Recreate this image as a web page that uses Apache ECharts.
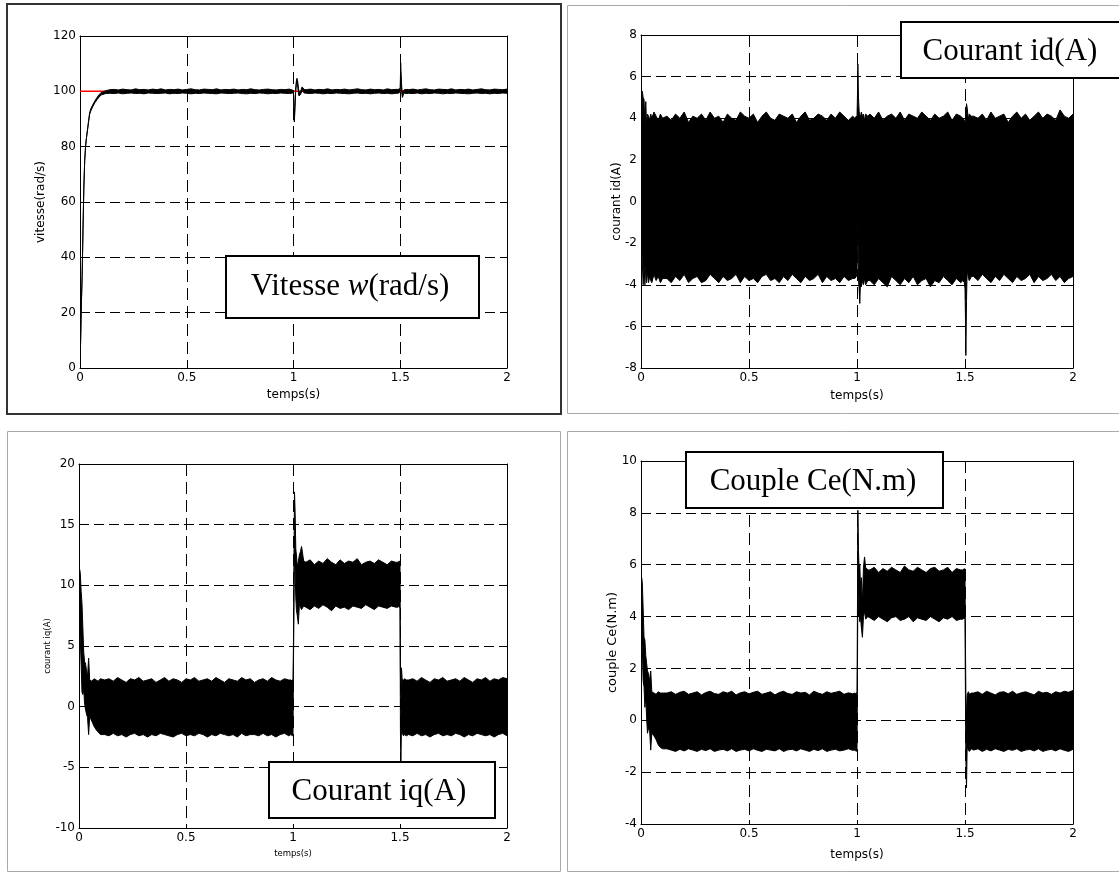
<!DOCTYPE html>
<html>
<head>
<meta charset="utf-8">
<script src="https://cdn.jsdelivr.net/npm/echarts@6/dist/echarts.min.js"></script>
<style>
html,body{margin:0;padding:0;background:#fff;}
#c{width:1119px;height:873px;}
</style>
</head>
<body>
<div id="c"></div>
<script>
// ---- sample times (s), shared by the four traces ----
const timeS = [
  0,0.003,0.006,0.01,0.014,0.018,0.022,0.026,0.03,0.035,0.04,0.045,0.05,0.06,0.07,0.08,0.09,0.1,
  0.12,0.14,0.16,0.18,0.2,0.22,0.24,0.26,0.28,0.3,0.32,0.34,0.36,0.38,0.4,0.42,0.44,0.46,0.48,0.5,
  0.52,0.54,0.56,0.58,0.6,0.62,0.64,0.66,0.68,0.7,0.72,0.74,0.76,0.78,0.8,0.82,0.84,0.86,0.88,0.9,0.92,0.94,0.96,0.98,
  0.99,0.997,1.0,1.002,1.004,1.007,1.01,1.013,1.016,1.02,1.025,1.03,1.035,1.04,1.05,
  1.06,1.08,1.1,1.12,1.14,1.16,1.18,1.2,1.22,1.24,1.26,1.28,1.3,1.32,1.34,1.36,1.38,1.4,1.42,1.44,1.46,1.48,
  1.49,1.497,1.5,1.502,1.504,1.507,1.51,1.513,1.516,1.52,1.53,
  1.54,1.56,1.58,1.6,1.62,1.64,1.66,1.68,1.7,1.72,1.74,1.76,1.78,1.8,1.82,1.84,1.86,1.88,1.9,1.92,1.94,1.96,1.98,2.0
];

// ---- tick labels ----
const xTicks = [0, 0.5, 1, 1.5, 2];
const speedTicks = [0, 20, 40, 60, 80, 100, 120];
const idTicks = [-8, -6, -4, -2, 0, 2, 4, 6, 8];
const iqTicks = [-10, -5, 0, 5, 10, 15, 20];
const ceTicks = [-4, -2, 0, 2, 4, 6, 8, 10];

// ---- speed reference (red) ----
const refT = [0, 2];
const speedRef = [100, 100];

// ---- speed w (rad/s): upper / lower envelope of the trace ----
const speedHi = [
  0,10,22,33,50,65,75,80,83,86, 89.2,92.2,93.6,95.2,96.6,97.8,98.9,99.6,
  100.2,100.6,100.7,100.5,100.8,100.6,100.5,100.9,100.6,100.7, 100.5,100.8,100.6,100.9,100.5,100.7,100.6,100.8,100.5,100.7,
  100.9,100.6,100.5,100.8,100.7,100.6,100.9,100.5,100.7,100.6, 100.8,100.5,100.7,100.6,100.9,100.6,100.5,100.7,100.8,100.6,
  100.5,100.7,100.6,100.8,
  100.6,100.4,100.0,93,90,96,100.5,103.5,104.7,103.4, 99.8,99.6,100.4,101.6,100.7,
  100.6,100.8,100.5,100.7,100.6,100.9,100.5,100.7,100.6,100.8, 100.5,100.7,100.9,100.6,100.5,100.8,100.6,100.7,100.5,100.9,
  100.6,100.7,
  100.7,100.9,101.3,110.4,106,101.5,99.3,99.7,100.4,100.6, 100.7,
  100.6,100.8,100.5,100.7,100.9,100.6,100.5,100.8,100.7,100.6, 100.9,100.5,100.7,100.6,100.8,100.5,100.7,100.9,100.6,100.5,
  100.8,100.7,100.6,100.8
];
const speedLo = [
  0,10,22,33,50,65,75,80,83,86, 88.8,91.6,92.8,94.5,95.9,97.0,98.0,98.7,
  99.2,99.3,99.2,99.4,99.1,99.3,99.4,99.2,99.3,99.1, 99.4,99.3,99.2,99.3,99.4,99.1,99.3,99.2,99.4,99.3,
  99.1,99.3,99.2,99.4,99.3,99.2,99.1,99.4,99.3,99.2, 99.3,99.4,99.2,99.1,99.3,99.2,99.4,99.3,99.1,99.3,
  99.2,99.4,99.3,99.2,
  99.3,99.4,99.2,91,88.9,94,99.5,102.5,103.8,101.5, 98.4,98.6,99.2,100.4,99.4,
  99.3,99.2,99.4,99.3,99.1,99.3,99.2,99.4,99.3,99.2, 99.1,99.3,99.4,99.2,99.3,99.1,99.3,99.4,99.2,99.3,
  99.1,99.3,
  99.3,99.6,100.2,107,102,99.5,97.8,98.4,99.2,99.3, 99.2,
  99.3,99.2,99.4,99.1,99.3,99.2,99.4,99.3,99.1,99.3, 99.2,99.4,99.3,99.2,99.1,99.3,99.4,99.2,99.3,99.1,
  99.3,99.2,99.4,99.3
];

// ---- current id (A) ----
const idHi = [
  0.7,2.6,5.3,5.0,4.9,3.7,4.8,3.6,4.2,4.1, 3.9,4.2,4.0,4.3,4.1,3.9,4.2,4.0,
  4.1,3.9,4.2,4.0,4.3,3.8,4.1,4.0,4.2,3.9, 4.3,4.0,4.1,3.8,4.2,4.0,3.9,4.3,4.1,4.0,
  4.2,3.8,4.1,4.3,4.0,3.9,4.2,4.1,4.0,4.2, 3.8,4.1,4.3,3.9,4.0,4.2,4.1,3.9,4.2,4.0,
  4.3,4.1,3.9,4.1,
  4.0,4.1,4.0,5.0,6.6,5.0,4.3,4.2,4.0,4.3, 4.1,4.2,3.9,4.2,4.1,
  4.2,4.0,4.3,3.9,4.1,4.2,4.0,4.3,3.9,4.2, 4.1,4.0,4.3,4.1,3.9,4.2,4.0,4.1,4.3,3.9,
  4.2,4.1,
  4.0,3.9,3.8,4.0,4.2,4.7,4.5,4.2,4.0,4.2, 4.1,
  4.1,4.0,4.2,3.9,4.3,4.0,4.1,4.2,3.8,4.1, 4.3,4.0,4.2,3.9,4.1,4.3,4.0,4.2,4.1,3.9,
  4.4,4.1,4.0,4.2
];
const idLo = [
  -0.5,-2.0,-2.9,-4.0,-3.0,-4.0,-3.1,-3.9,-3.4,-3.9, -3.6,-3.8,-3.9,-3.5,-3.8,-3.6,-3.9,-3.7,
  -3.7,-3.9,-3.6,-3.8,-3.5,-3.9,-3.7,-3.6,-3.9,-3.8, -3.5,-3.7,-3.9,-3.6,-3.8,-3.7,-3.5,-3.9,-3.6,-3.8,
  -3.7,-3.9,-3.6,-3.5,-3.8,-3.7,-3.9,-3.6,-3.8,-3.5, -3.7,-3.9,-3.6,-3.8,-3.7,-3.5,-3.9,-3.6,-3.8,-3.7,
  -3.9,-3.6,-3.8,-3.7,
  -3.7,-3.6,-3.4,-2.0,-1.0,-3.8,-4.2,-4.9,-3.9,-4.1, -3.8,-4.0,-3.7,-4.0,-3.8,
  -3.8,-4.0,-3.7,-3.9,-4.1,-3.6,-3.8,-4.0,-3.7,-3.9, -3.6,-4.0,-3.8,-3.7,-4.1,-3.8,-3.9,-3.6,-3.8,-4.0,
  -3.7,-3.9,
  -3.8,-3.9,-4.2,-5.5,-7.4,-4.8,-3.2,-3.5,-3.7,-3.8, -3.6,
  -3.6,-3.8,-3.5,-3.7,-3.9,-3.6,-3.8,-3.5,-3.7,-3.9, -3.6,-3.8,-3.7,-3.5,-3.9,-3.6,-3.8,-3.7,-3.5,-3.8,
  -3.6,-3.9,-3.7,-3.6
];

// ---- current iq (A) ----
const iqHi = [
  9.5,11.3,11.0,9.5,8.5,6.5,4.5,3.7,3.6,3.0, 2.5,4.0,2.2,2.1,2.3,2.2,2.1,2.3,
  2.2,2.3,2.1,2.4,2.2,2.0,2.3,2.2,2.4,2.1, 2.2,2.3,2.0,2.2,2.4,2.1,2.3,2.2,2.0,2.3,
  2.2,2.4,2.1,2.2,2.3,2.1,2.4,2.2,2.0,2.3, 2.2,2.1,2.4,2.2,2.3,2.0,2.2,2.3,2.1,2.4,
  2.2,2.1,2.3,2.2,
  2.2,2.1,2.3,5.0,10.0,17.7,16.0,13.0,12.5,11.5, 12.0,12.5,12.8,13.2,12.0,
  11.9,12.1,11.7,12.0,11.8,12.2,11.9,11.7,12.1,11.8, 12.0,11.9,12.2,11.7,11.9,12.0,11.8,12.1,11.9,11.7,
  12.0,11.9,
  11.9,12.0,11.8,3.0,1.0,3.2,2.3,2.2,2.1,2.3, 2.2,
  2.2,2.3,2.1,2.4,2.2,2.0,2.3,2.2,2.4,2.1, 2.2,2.3,2.1,2.4,2.2,2.0,2.3,2.2,2.4,2.1,
  2.3,2.2,2.4,2.3
];
const iqLo = [
  4.0,6.5,5.5,3.5,1.2,1.0,1.5,0.3,-0.2,-0.6, -0.9,-2.3,-0.8,-1.2,-1.6,-1.9,-2.1,-2.3,
  -2.3,-2.4,-2.2,-2.4,-2.3,-2.5,-2.3,-2.2,-2.4,-2.3, -2.5,-2.3,-2.4,-2.2,-2.3,-2.4,-2.5,-2.3,-2.2,-2.4,
  -2.3,-2.4,-2.2,-2.3,-2.5,-2.3,-2.4,-2.2,-2.3,-2.4, -2.3,-2.5,-2.2,-2.4,-2.3,-2.3,-2.4,-2.2,-2.4,-2.3,
  -2.5,-2.3,-2.2,-2.4,
  -2.3,-2.4,-2.3,3.0,7.0,14.0,11.0,9.0,8.0,7.5, 6.8,8.5,8.2,8.0,8.3,
  8.2,8.0,8.3,8.1,8.4,8.2,7.9,8.3,8.1,8.2, 8.0,8.3,8.2,8.1,8.4,8.2,8.0,8.3,8.2,8.1,
  8.3,8.2,
  8.2,8.3,8.1,-2.0,-4.7,-1.5,-2.2,-2.3,-2.4,-2.3, -2.4,
  -2.3,-2.4,-2.2,-2.4,-2.3,-2.5,-2.3,-2.2,-2.4,-2.3, -2.4,-2.2,-2.3,-2.5,-2.3,-2.4,-2.2,-2.3,-2.4,-2.3,
  -2.5,-2.3,-2.2,-2.4
];

// ---- torque Ce (N.m) ----
const ceHi = [
  4.5,5.5,5.3,4.3,3.2,3.1,2.5,2.2,1.9,1.8, 1.5,1.9,1.1,1.05,1.0,1.1,1.05,1.05,
  1.05,1.1,1.0,1.08,1.12,1.0,1.05,1.1,0.98,1.07, 1.12,1.03,1.0,1.1,1.05,1.12,0.98,1.06,1.1,1.02,
  1.08,1.12,1.0,1.05,1.1,0.98,1.07,1.12,1.03,1.0, 1.1,1.05,1.08,0.98,1.12,1.05,1.0,1.1,1.04,1.08,
  1.12,1.0,1.06,1.02,
  1.05,1.0,1.1,4.0,8.1,6.5,5.8,6.0,5.2,5.5, 4.5,5.9,6.3,5.9,5.8,
  5.8,5.9,5.7,5.85,5.75,5.9,5.8,5.7,5.95,5.8, 5.75,5.9,5.8,5.7,5.85,5.9,5.75,5.8,5.9,5.7,
  5.85,5.8,
  5.8,5.85,5.7,3.0,1.0,0.0,1.0,1.05,1.1,1.0, 1.05,
  1.05,1.1,1.0,1.12,1.05,0.98,1.08,1.1,1.02,1.12, 1.0,1.06,1.1,1.04,0.98,1.12,1.05,1.08,1.0,1.1,
  1.05,1.12,1.08,1.15
];
const ceLo = [
  2.0,3.0,2.8,1.5,1.3,0.5,0.9,0.1,-0.5,-0.3, -0.4,-1.15,-0.5,-0.6,-0.75,-0.95,-1.05,-1.1,
  -1.1,-1.15,-1.2,-1.12,-1.18,-1.1,-1.15,-1.2,-1.12,-1.17, -1.1,-1.2,-1.15,-1.12,-1.18,-1.1,-1.2,-1.15,-1.12,-1.18,
  -1.1,-1.16,-1.2,-1.12,-1.15,-1.18,-1.1,-1.2,-1.14,-1.12, -1.18,-1.1,-1.15,-1.2,-1.12,-1.17,-1.1,-1.2,-1.15,-1.12,
  -1.18,-1.15,-1.1,-1.16,
  -1.15,-1.2,-1.1,1.5,5.5,4.0,4.2,3.8,4.0,3.6, 3.2,4.0,4.2,3.9,4.0,
  3.95,3.85,4.0,3.9,3.8,3.95,4.0,3.85,3.9,4.0, 3.8,3.95,3.9,3.85,4.0,3.9,3.8,3.95,3.9,4.0,
  3.85,3.9,
  3.9,3.95,3.9,1.0,-1.5,-2.6,-1.0,-1.1,-1.15,-1.2, -1.1,
  -1.15,-1.1,-1.2,-1.12,-1.18,-1.1,-1.15,-1.2,-1.12,-1.16, -1.1,-1.2,-1.15,-1.12,-1.18,-1.1,-1.2,-1.15,-1.12,-1.18,
  -1.1,-1.16,-1.2,-1.12
];

// ---- layout ----
const panels = [
  {grid:{left:80, top:36, width:427, height:332}, ticks:speedTicks, hi:speedHi, lo:speedLo,
   yName:'vitesse(rad/s)', yNameSize:12, yGap:33, xNameSize:12, xGap:21},
  {grid:{left:641, top:35, width:432, height:333}, ticks:idTicks, hi:idHi, lo:idLo,
   yName:'courant id(A)', yNameSize:12, yGap:18, xNameSize:12, xGap:22},
  {grid:{left:79, top:464, width:428, height:364}, ticks:iqTicks, hi:iqHi, lo:iqLo,
   yName:'courant iq(A)', yNameSize:8.5, yGap:27, xNameSize:8.5, xGap:21},
  {grid:{left:641, top:461, width:432, height:363}, ticks:ceTicks, hi:ceHi, lo:ceLo,
   yName:'couple Ce(N.m)', yNameSize:13, yGap:22, xNameSize:12, xGap:25}
];

const FONT = 'DejaVu Sans';
const grids = [], xAxes = [], yAxes = [], series = [];

// red reference speed, under the black trace
series.push({
  type:'line', xAxisIndex:0, yAxisIndex:0,
  data: refT.map((t, i) => [t, speedRef[i]]),
  symbol:'none', lineStyle:{color:'#ff0000', width:1.5}, z:3, silent:true
});

panels.forEach((p, gi) => {
  grids.push(Object.assign({containLabel:false, outerBoundsMode:'none'}, p.grid));
  ['bottom', 'top'].forEach(pos => {
    const main = pos === 'bottom';
    xAxes.push({
      type:'value', gridIndex:gi, position:pos,
      min:xTicks[0], max:xTicks[xTicks.length-1], interval:xTicks[1]-xTicks[0],
      axisLine:{show:true, onZero:false, lineStyle:{color:'#000', width:1}},
      axisTick:{show:true, inside:true, length:4, lineStyle:{color:'#000', width:1}},
      axisLabel:{show:main, color:'#000', fontFamily:FONT, fontSize:12, margin:4},
      splitLine:{show:main, lineStyle:{color:'#000', width:1, type:[12,6]}},
      name: main ? 'temps(s)' : '', nameLocation:'middle', nameGap:p.xGap, nameMoveOverlap:false,
      nameTextStyle:{color:'#000', fontFamily:FONT, fontSize:p.xNameSize}
    });
  });
  ['left', 'right'].forEach(pos => {
    const main = pos === 'left';
    yAxes.push({
      type:'value', gridIndex:gi, position:pos,
      min:p.ticks[0], max:p.ticks[p.ticks.length-1], interval:p.ticks[1]-p.ticks[0],
      axisLine:{show:true, onZero:false, lineStyle:{color:'#000', width:1}},
      axisTick:{show:true, inside:true, length:4, lineStyle:{color:'#000', width:1}},
      axisLabel:{show:main, color:'#000', fontFamily:FONT, fontSize:12, margin:4},
      splitLine:{show:main, lineStyle:{color:'#000', width:1, type:[10,5]}},
      name: main ? p.yName : '', nameLocation:'middle', nameGap:p.yGap, nameMoveOverlap:false,
      nameTextStyle:{color:'#000', fontFamily:FONT, fontSize:p.yNameSize}
    });
  });
  // the dense oscillating trace: polygon between its upper and lower envelopes,
  // placed through the axes' own scales (api.coord)
  const hi = p.hi, lo = p.lo;
  series.push({
    type:'custom', xAxisIndex:gi*2, yAxisIndex:gi*2, coordinateSystem:'cartesian2d',
    data:[[timeS[0], lo[0]]], encode:{x:0, y:1}, clip:true, z:4, silent:true,
    renderItem: function (params, api) {
      const pts = [];
      for (let i = 0; i < timeS.length; i++) pts.push(api.coord([timeS[i], hi[i]]));
      for (let i = timeS.length - 1; i >= 0; i--) pts.push(api.coord([timeS[i], lo[i]]));
      return {
        type:'polygon',
        shape:{points:pts},
        style:{fill:'#000', stroke:'#000', lineWidth:1, lineJoin:'round'}
      };
    }
  });
});

const serif = 'Liberation Serif, Times New Roman, serif';
function labelBox(x, y, w, h, cx, cy, text, rich) {
  return [
    {type:'rect', z:100, shape:{x:x, y:y, width:w, height:h},
     style:{fill:'#fff', stroke:'#000', lineWidth:2}},
    {type:'text', z:101, x:cx, y:cy,
     style:{text:text, align:'center', verticalAlign:'middle',
            fontFamily:serif, fontSize:31, fill:'#000', rich:rich}}
  ];
}
const richSpeed = {
  a:{fontFamily:serif, fontSize:31, fill:'#000'},
  b:{fontFamily:serif, fontSize:31, fill:'#000', fontStyle:'italic'}
};

const graphics = [
  {type:'rect', z:1, shape:{x:7, y:4, width:554, height:410}, style:{fill:'none', stroke:'#333', lineWidth:2}},
  {type:'rect', z:1, shape:{x:567.5, y:5.5, width:570, height:408}, style:{fill:'none', stroke:'#aaa', lineWidth:1}},
  {type:'rect', z:1, shape:{x:7.5, y:431.5, width:553, height:440}, style:{fill:'none', stroke:'#aaa', lineWidth:1}},
  {type:'rect', z:1, shape:{x:567.5, y:431.5, width:570, height:440}, style:{fill:'none', stroke:'#aaa', lineWidth:1}}
].concat(
  labelBox(226, 256, 253, 62, 350, 287, '{a|Vitesse }{b|w}{a|(rad/s)}', richSpeed),
  labelBox(901, 22, 240, 56, 1010, 52, 'Courant id(A)'),
  labelBox(269, 762, 226, 56, 379, 792, 'Courant iq(A)'),
  labelBox(686, 452, 257, 56, 813, 482, 'Couple Ce(N.m)')
);

const chart = echarts.init(document.getElementById('c'), null, {renderer:'canvas'});
chart.setOption({
  animation:false,
  backgroundColor:'#fff',
  grid:grids,
  xAxis:xAxes,
  yAxis:yAxes,
  series:series,
  graphic:{elements:graphics}
});
</script>
</body>
</html>
